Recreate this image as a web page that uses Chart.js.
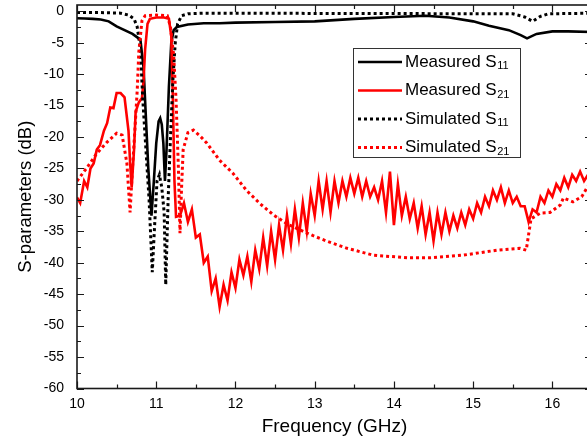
<!DOCTYPE html>
<html>
<head>
<meta charset="utf-8">
<script src="https://cdn.jsdelivr.net/npm/chart.js@4.4.1/dist/chart.umd.min.js"></script>
<style>
  html, body { margin: 0; padding: 0; background: #fff; overflow: hidden; }
  #wrap { position: relative; width: 600px; height: 442px; }
</style>
</head>
<body>
<div id="wrap"><canvas id="myChart"></canvas></div>
<script>
(function () {
  "use strict";

  // tick positions
  const xTickValues = [10, 11, 12, 13, 14, 15, 16];
  const xMinorValues = [10.5, 11.5, 12.5, 13.5, 14.5, 15.5, 16.5];
  const yTickValues = [0, -5, -10, -15, -20, -25, -30, -35, -40, -45, -50, -55, -60];
  const yMinorValues = [-2.5, -7.5, -12.5, -17.5, -22.5, -27.5, -32.5, -37.5, -42.5, -47.5, -52.5, -57.5];

  // Measured S11
  const measS11Freq = [10.0, 10.1, 10.2, 10.3, 10.4, 10.5, 10.6, 10.7, 10.8, 10.84, 10.87, 10.9, 10.94,
    10.97, 11.0, 11.03, 11.05, 11.07, 11.09, 11.11, 11.13, 11.16, 11.19, 11.22, 11.26, 11.4, 11.6, 11.8,
    12.0, 12.5, 13.0, 13.5, 14.0, 14.4, 14.7, 15.0, 15.2, 15.45, 15.6, 15.68, 15.8, 16.0, 16.2, 16.5];
  const measS11dB = [-1.1, -1.15, -1.2, -1.3, -1.6, -2.4, -3.0, -3.6, -4.5, -9, -17, -25, -32.5,
    -27, -21, -17.5, -17, -18, -21, -27, -22, -12, -5, -3, -2.5, -2.1, -1.9, -1.9,
    -1.8, -1.7, -1.6, -1.2, -0.9, -0.7, -1.0, -1.6, -2.3, -3.0, -3.8, -4.3, -3.6, -3.2, -3.2, -3.3];

  // Measured S21
  const measS21Freq = [10.0, 10.04, 10.09, 10.13, 10.17, 10.21, 10.25, 10.29, 10.34, 10.38, 10.42, 10.46,
    10.5, 10.55, 10.6, 10.65, 10.67, 10.69, 10.72, 10.74, 10.78, 10.82, 10.84, 10.86, 10.89, 10.92,
    11.0, 11.1, 11.16, 11.19, 11.21, 11.23, 11.25,
    11.3, 11.35, 11.4, 11.45, 11.5, 11.55, 11.6, 11.65, 11.7, 11.75, 11.8, 11.85, 11.9, 11.95,
    12.0, 12.05, 12.1, 12.15, 12.2, 12.25, 12.3, 12.35, 12.4, 12.45, 12.5, 12.55, 12.6, 12.65, 12.7, 12.75,
    12.8, 12.85, 12.9, 12.95, 13.0, 13.05, 13.1, 13.15, 13.2, 13.25, 13.3, 13.35, 13.4, 13.45, 13.5, 13.55,
    13.6, 13.65, 13.7, 13.75, 13.8, 13.85, 13.9, 13.95, 14.0, 14.05, 14.1, 14.15, 14.2, 14.25, 14.3, 14.35,
    14.4, 14.45, 14.5, 14.55, 14.6, 14.65, 14.7, 14.75, 14.8, 14.85, 14.9, 14.95, 15.0, 15.05, 15.1, 15.15,
    15.2, 15.25, 15.3, 15.35, 15.4, 15.45, 15.5, 15.55, 15.6, 15.65, 15.7, 15.75, 15.8, 15.85, 15.9, 15.95,
    16.0, 16.05, 16.1, 16.15, 16.2, 16.25, 16.3, 16.35, 16.4, 16.45, 16.5];
  const measS21dB = [-29.6, -30.5, -27, -28, -25, -24.2, -22, -21.3, -19, -17.8, -15.3, -15.4,
    -13, -13, -13.7, -19, -24, -28, -22, -16, -14.5, -13.8, -11, -6, -2, -1.2,
    -1.0, -1.0, -1.2, -4, -14, -27, -32.7,
    -32.5, -30.5, -33.5, -31.5, -36, -35.5, -40, -39, -44.5, -42.5, -47, -43.5, -46, -41.5,
    -44, -39.5, -42, -39, -43, -38, -41, -36, -40.5, -35, -39.5, -34, -38, -32.5, -37, -31.5,
    -36, -30.5, -35, -29, -32.5, -27, -31.5, -27, -32, -27, -30.5, -27, -29.5, -26.5, -29, -26.5,
    -29.5, -27, -29.5, -28, -30, -27, -32, -25.5, -34, -27.5, -32.5, -29.5, -33, -30.5, -34.5, -31,
    -35.5, -32, -36.5, -32, -35.5, -32, -35, -32.5, -34.5, -32, -34, -31.5, -33, -30.5, -32, -29.5,
    -31, -28.5, -30, -28, -30.5, -28.5, -30.5, -29.5, -31, -31, -33.5, -31.5, -32, -29.5, -30.5, -28.5,
    -29.5, -27.5, -28.5, -26.5, -28, -26, -27, -25.5, -27, -26, -26.5];

  // Simulated S11
  const simS11Freq = [10.0, 10.3, 10.55, 10.65, 10.72, 10.76, 10.8, 10.83, 10.87, 10.91, 10.95, 10.98,
    11.01, 11.04, 11.07, 11.1, 11.12, 11.15, 11.18, 11.21, 11.24, 11.27, 11.32, 11.4, 11.6,
    15.5, 15.65, 15.75, 15.85, 15.95, 16.5];
  const simS11dB = [-0.2, -0.2, -0.3, -0.6, -1.2, -2.5, -6, -14, -22, -30, -41.5, -34,
    -27, -26, -28, -32, -43.5, -30, -20, -11, -5, -2, -0.7, -0.4, -0.3,
    -0.4, -0.9, -1.6, -0.8, -0.4, -0.3];

  // Simulated S21
  const simS21Freq = [10.0, 10.13, 10.25, 10.38, 10.5, 10.57, 10.63, 10.67, 10.7, 10.73, 10.76, 10.78,
    10.82, 10.86, 11.0, 11.14, 11.18, 11.22, 11.25, 11.28, 11.3, 11.32, 11.34, 11.4, 11.47, 11.55,
    11.64, 11.8, 11.97, 12.14, 12.31, 12.48, 12.65, 12.82, 12.98, 13.16, 13.41, 13.74, 14.17, 14.46,
    14.87, 15.3, 15.59, 15.67, 15.7, 15.73, 15.85, 15.97, 16.1, 16.14, 16.26, 16.37, 16.44, 16.5];
  const simS21dB = [-27, -24.8, -22.6, -20.8, -19.4, -19.7, -24.2, -32, -25, -19, -12.6, -6.5,
    -1.5, -0.7, -0.6, -0.7, -2.5, -7, -14, -25, -35.3, -28, -22, -19.3, -18.9, -19.8,
    -21, -23.7, -25.8, -28.5, -30.6, -32.4, -33.8, -34.8, -35.7, -36.6, -37.7, -38.8, -39.2, -39.2,
    -38.8, -38, -37.7, -38, -35.5, -33, -32.1, -32, -30.8, -29.7, -30.3, -29.5, -28, -27];

  function pts(xs, ys) {
    return xs.map(function (v, i) { return { x: v, y: ys[i] }; });
  }

  Chart.defaults.font.family = "'Liberation Sans', Arial, Helvetica, sans-serif";
  Chart.defaults.color = "#000";

  // box with inward ticks on all four sides
  const frameTicks = {
    id: "frameTicks",
    afterDatasetsDraw(chart) {
      const { ctx, chartArea: a } = chart;
      const x = chart.scales.x, y = chart.scales.y;
      ctx.save();
      ctx.strokeStyle = "#1a1a1a";
      ctx.lineWidth = 1.2;
      ctx.beginPath();
      function xt(v, len) {
        const px = Math.round(x.getPixelForValue(v)) + 0.5;
        ctx.moveTo(px, a.bottom); ctx.lineTo(px, a.bottom - len);
        ctx.moveTo(px, a.top); ctx.lineTo(px, a.top + len);
      }
      function yt(v, len) {
        const py = Math.round(y.getPixelForValue(v)) + 0.5;
        ctx.moveTo(a.left, py); ctx.lineTo(a.left + len, py);
        ctx.moveTo(a.right, py); ctx.lineTo(a.right - len, py);
      }
      xTickValues.forEach(function (v) { xt(v, 7); });
      xMinorValues.forEach(function (v) { xt(v, 4); });
      yTickValues.forEach(function (v) { yt(v, 7); });
      yMinorValues.forEach(function (v) { yt(v, 4); });
      ctx.stroke();
      ctx.lineWidth = 1.6;
      ctx.strokeRect(a.left, a.top, a.right - a.left, a.bottom - a.top);
      ctx.restore();
    }
  };

  // boxed legend with subscripts
  const boxLegend = {
    id: "boxLegend",
    afterDraw(chart) {
      const ctx = chart.ctx;
      const bx = 353, by = 48, bw = 167, bh = 109;
      ctx.save();
      ctx.fillStyle = "#fff";
      ctx.fillRect(bx, by, bw, bh);
      ctx.strokeStyle = "#333";
      ctx.lineWidth = 1;
      ctx.strokeRect(bx + 0.5, by + 0.5, bw, bh);
      chart.data.datasets.forEach(function (ds, i) {
        const cy = 62 + i * 28.5;
        ctx.beginPath();
        ctx.strokeStyle = ds.borderColor;
        ctx.lineWidth = ds.borderWidth;
        ctx.setLineDash(ds.borderDash || []);
        ctx.moveTo(358, cy);
        ctx.lineTo(402, cy);
        ctx.stroke();
        ctx.setLineDash([]);
        ctx.fillStyle = "#000";
        ctx.textBaseline = "middle";
        ctx.font = "17px 'Liberation Sans', Arial, sans-serif";
        ctx.fillText(ds.label, 405, cy);
        const w = ctx.measureText(ds.label).width;
        ctx.font = "11px 'Liberation Sans', Arial, sans-serif";
        ctx.fillText(ds.sub, 405 + w + 0.5, cy + 4);
      });
      ctx.restore();
    }
  };

  const ctx = document.getElementById("myChart").getContext("2d");
  const myChart = new Chart(ctx, {
    type: "line",
    data: {
      datasets: [
        {
          label: "Measured S", sub: "11",
          data: pts(measS11Freq, measS11dB),
          borderColor: "#000000", borderWidth: 2.6, order: 4
        },
        {
          label: "Measured S", sub: "21",
          data: pts(measS21Freq, measS21dB),
          borderColor: "#ff0000", borderWidth: 2.6, order: 3
        },
        {
          label: "Simulated S", sub: "11",
          data: pts(simS11Freq, simS11dB),
          borderColor: "#000000", borderWidth: 3, borderDash: [3, 3], order: 2
        },
        {
          label: "Simulated S", sub: "21",
          data: pts(simS21Freq, simS21dB),
          borderColor: "#ff0000", borderWidth: 3, borderDash: [3, 3], order: 1
        }
      ]
    },
    options: {
      responsive: true,
      maintainAspectRatio: false,
      animation: false,
      layout: { padding: { top: 5, right: 8, left: 0, bottom: 0 } },
      elements: { point: { radius: 0 }, line: { tension: 0, borderCapStyle: "butt" } },
      plugins: { legend: { display: false }, tooltip: { enabled: false } },
      scales: {
        x: {
          type: "linear",
          min: 10, max: 16.5,
          grid: { display: false, drawTicks: false },
          border: { display: false },
          ticks: { padding: 7, font: { size: 14 } },
          afterBuildTicks: function (s) { s.ticks = xTickValues.map(function (v) { return { value: v }; }); },
          afterFit: function (s) { s.height = 53.5; s.paddingLeft = 0; s.paddingRight = 0; },
          title: { display: true, text: "Frequency (GHz)", font: { size: 19 }, padding: { top: 0, bottom: 3.5 } }
        },
        y: {
          type: "linear",
          min: -60, max: 1,
          grid: { display: false, drawTicks: false },
          border: { display: false },
          ticks: { padding: 13, font: { size: 14 } },
          afterBuildTicks: function (s) { s.ticks = yTickValues.map(function (v) { return { value: v }; }); },
          afterFit: function (s) { s.width = 77; s.paddingTop = 0; s.paddingBottom = 0; },
          title: { display: true, text: "S-parameters (dB)", font: { size: 18.5 }, padding: { top: 15, bottom: 0 } }
        }
      }
    },
    plugins: [frameTicks, boxLegend]
  });
})();
</script>
</body>
</html>
